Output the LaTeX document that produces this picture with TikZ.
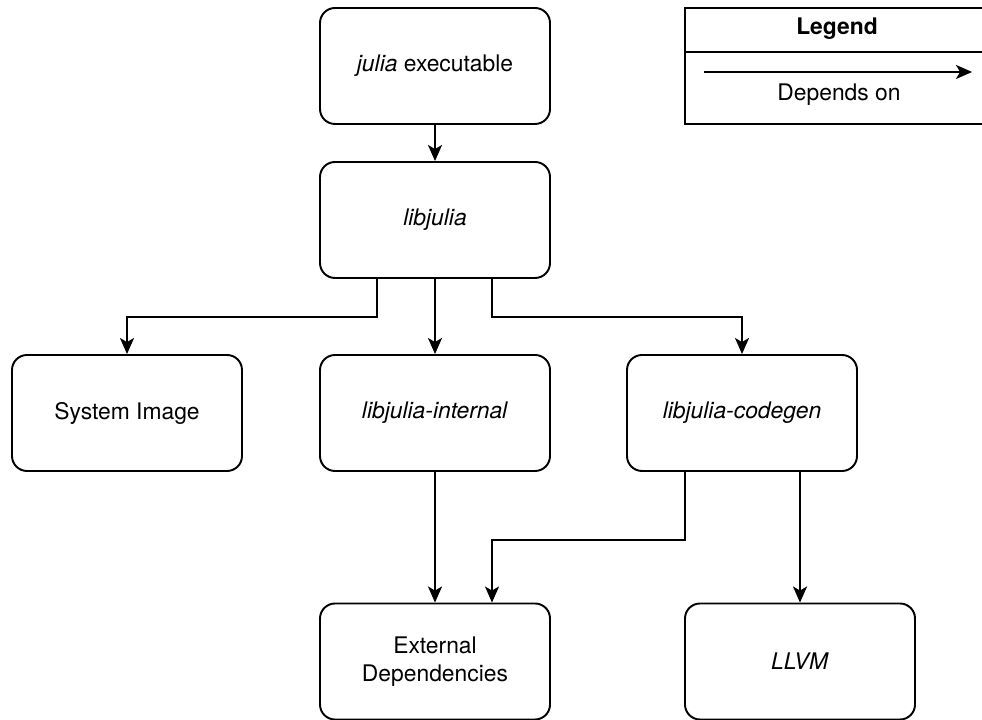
\documentclass[tikz,border=0pt]{standalone}
\usepackage{fontspec}
\setmainfont{TeX Gyre Heros}
\usetikzlibrary{arrows.meta}
\begin{document}
\begin{tikzpicture}[
    box/.style={draw, line width=1.1pt, rounded corners=0.3cm, minimum width=4.6cm, minimum height=2.32cm, align=center, font=\fontsize{13}{16}\selectfont},
    dep/.style={line width=1.1pt, -{Stealth[length=0.32cm, width=0.28cm, inset=0.08cm]}}
  ]
  \useasboundingbox (0, 0) rectangle (19.64, 14.38);
  \node[box] (exe) at (8.7, 13.06) {\textit{julia} executable};
  \node[box] (libjulia) at (8.7, 9.98) {\textit{libjulia}};
  \node[box] (sysimg) at (2.54, 6.12) {System Image};
  \node[box] (internal) at (8.7, 6.12) {\textit{libjulia-internal}};
  \node[box] (codegen) at (14.84, 6.12) {\textit{libjulia-codegen}};
  \node[box] (extdeps) at (8.7, 1.15) {External\\Dependencies};
  \node[box] (llvm) at (16.0, 1.15) {\textit{LLVM}};
  \coordinate (bendL) at (7.54, 8.04);
  \coordinate (bendR) at (9.84, 8.04);
  \coordinate (cgout) at (13.7, 3.58);
  \coordinate (bendE) at (9.84, 3.58);
  \draw[dep] (exe) -- (libjulia);
  \draw[dep] (libjulia.south -| bendL) -- (bendL) -| (sysimg.north);
  \draw[dep] (libjulia) -- (internal);
  \draw[dep] (libjulia.south -| bendR) -- (bendR) -| (codegen.north);
  \draw[dep] (internal) -- (extdeps);
  \draw[dep] (codegen.south -| cgout) -- (cgout) -- (bendE) -- (bendE |- extdeps.north);
  \draw[dep] (codegen.south -| llvm) -- (llvm);
  % legend
  \draw[line width=1.1pt] (13.7, 11.9) rectangle (19.8, 14.22);
  \draw[line width=1.1pt] (13.7, 13.34) -- (19.8, 13.34);
  \node[font=\fontsize{13}{16}\selectfont\bfseries] (legend) at (16.74, 13.8) {Legend};
  \coordinate (legfrom) at (14.08, 12.94);
  \coordinate (legto) at (19.44, 12.94);
  \draw[dep] (legfrom) -- (legto);
  \node[font=\fontsize{13}{16}\selectfont] (dependson) at (16.78, 12.48) {Depends on};
\end{tikzpicture}
\end{document}
